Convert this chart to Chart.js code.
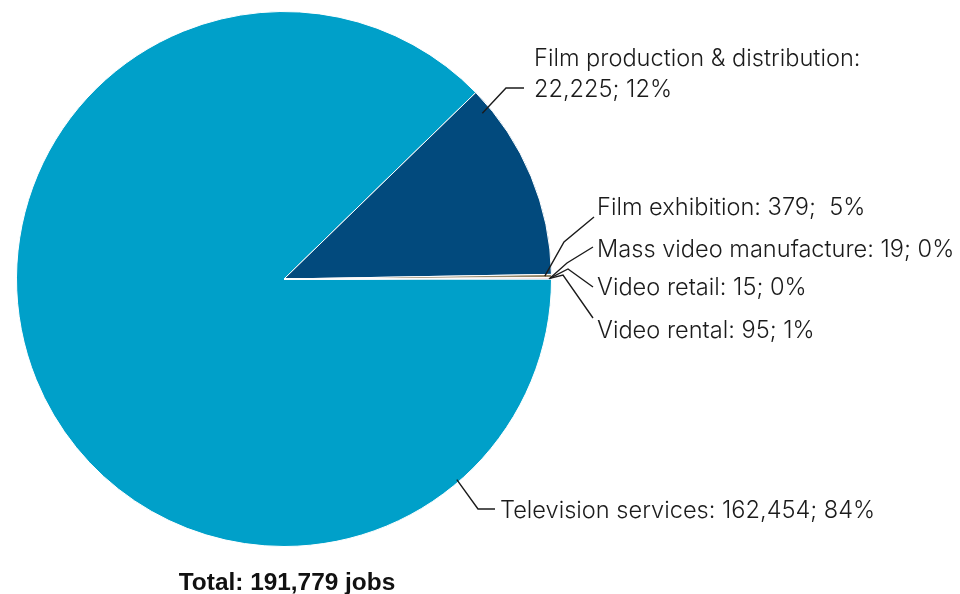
<!DOCTYPE html>
<html>
<head>
<meta charset="utf-8">
<script src="https://cdn.jsdelivr.net/npm/chart.js@4/dist/chart.umd.min.js"></script>
<style>
  html, body { margin: 0; padding: 0; background: #ffffff; }
  #wrap { width: 960px; height: 594px; position: relative; }
</style>
</head>
<body>
<div id="wrap"><canvas id="jobsPie" width="960" height="594"></canvas></div>
<script>
// Jobs by industry segment
const categories = [
  'Television services',
  'Film production & distribution',
  'Film exhibition',
  'Mass video manufacture',
  'Video retail',
  'Video rental'
];
const jobs = [162454, 22225, 379, 19, 15, 95];
const shareLabels = ['84%', '12%', '5%', '0%', '0%', '1%'];
const valueSeparators = ['; ', '; ', ';  ', '; ', '; ', '; '];
const totalJobs = 191779;
const sliceColors = ['#00a0c9', '#024a7d', '#938567', '#dca522', '#f3efe6', '#c7202b'];

const fmt = n => n.toLocaleString('en-US');

// Callout geometry: where the leader leaves the slice (fraction of the arc span
// and of the radius), its bend points, and where the text sits.
const callouts = [
  { frac: 0.156, r: 0.99, path: [[478, 509], [495, 509]], x: 500, base: [518], split: false },
  { frac: 0.10,  r: 0.966, path: [[506, 88], [524, 88]],  x: 534, base: [66, 97], split: true },
  { frac: 0.5,   r: 0.975, path: [[564, 242], [594, 217]], x: 597, base: [215], split: false },
  { frac: 0.5,   r: 0.995, path: [[567, 263], [593, 247]], x: 597, base: [257], split: false },
  { frac: 0.5,   r: 0.995, path: [[568, 269], [593, 287]], x: 597, base: [295], split: false },
  { frac: 0.5,   r: 0.99,  path: [[563, 275], [593, 318]], x: 597, base: [338], split: false }
];

const labelFont = '300 23.6px Inter';
const totalFont = 'bold 24.4px "Liberation Sans"';

const calloutPlugin = {
  id: 'callouts',
  afterDatasetsDraw(chart) {
    const ctx = chart.ctx;
    const arcs = chart.getDatasetMeta(0).data;
    ctx.save();
    ctx.strokeStyle = '#1b1b1b';
    ctx.lineWidth = 1.4;
    ctx.lineJoin = 'miter';
    callouts.forEach((c, i) => {
      const p = arcs[i].getProps(['x', 'y', 'startAngle', 'endAngle', 'outerRadius'], true);
      const ang = p.startAngle + (p.endAngle - p.startAngle) * c.frac;
      const rad = p.outerRadius * c.r;
      ctx.beginPath();
      ctx.moveTo(p.x + Math.cos(ang) * rad, p.y + Math.sin(ang) * rad);
      c.path.forEach(([x, y]) => ctx.lineTo(x, y));
      ctx.stroke();

      const valuePart = fmt(jobs[i]) + valueSeparators[i] + shareLabels[i];
      const lines = c.split
        ? [categories[i] + ':', valuePart]
        : [categories[i] + ': ' + valuePart];
      ctx.fillStyle = '#1b1b1b';
      ctx.font = labelFont;
      ctx.textAlign = 'left';
      ctx.textBaseline = 'alphabetic';
      lines.forEach((t, k) => ctx.fillText(t, c.x, c.base[k]));
    });

    ctx.font = totalFont;
    ctx.fillStyle = '#111111';
    ctx.textAlign = 'center';
    ctx.fillText('Total: ' + fmt(totalJobs) + ' jobs', 287, 590);
    ctx.restore();
  }
};

function build() {
  new Chart(document.getElementById('jobsPie'), {
    type: 'pie',
    data: {
      labels: categories,
      datasets: [{
        data: jobs,
        backgroundColor: sliceColors,
        borderColor: '#ffffff',
        borderWidth: 1
      }]
    },
    options: {
      responsive: false,
      animation: false,
      rotation: 90,
      layout: { padding: { left: 16, right: 408, top: 11, bottom: 47 } },
      plugins: {
        legend: { display: false },
        tooltip: { enabled: false },
        title: { display: false }
      }
    },
    plugins: [calloutPlugin]
  });
}

Promise.all([
  document.fonts.load(labelFont),
  document.fonts.load(totalFont)
]).then(build, build);
</script>
</body>
</html>
